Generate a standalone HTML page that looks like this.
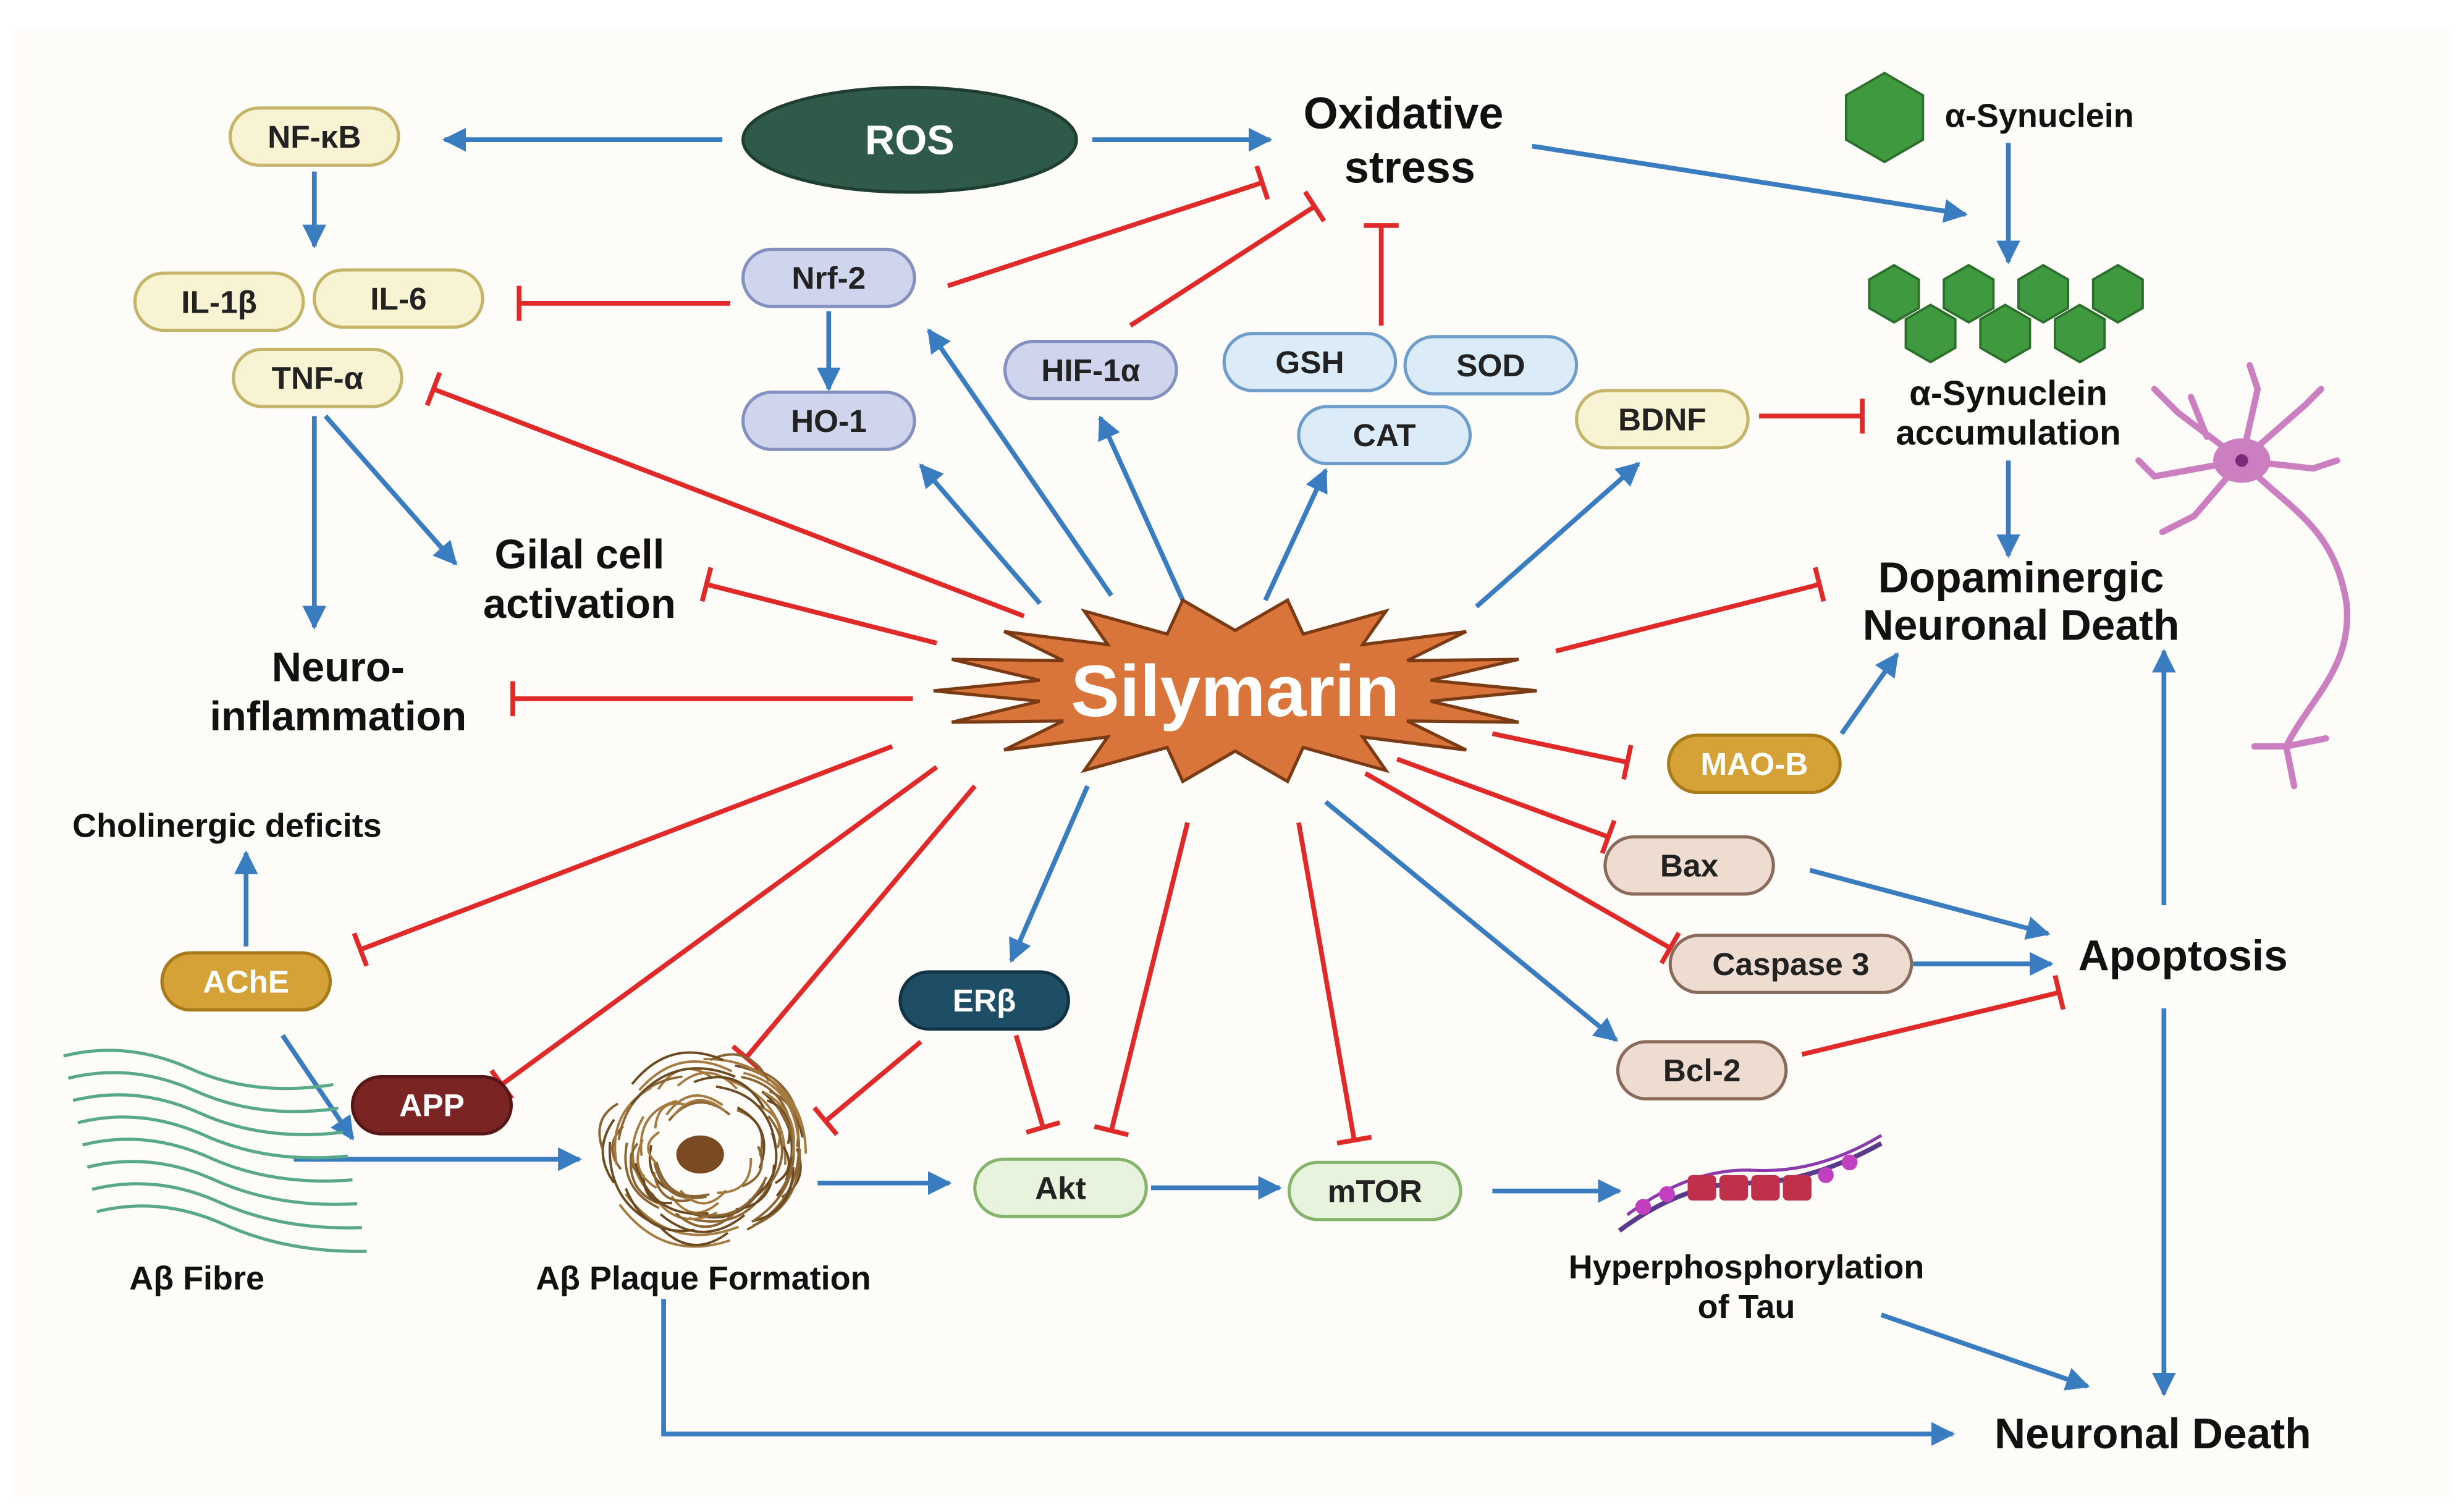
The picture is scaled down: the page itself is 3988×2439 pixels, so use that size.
<!DOCTYPE html>
<html><head><meta charset="utf-8"><style>
html,body{margin:0;padding:0;background:#fff;}
svg{display:block;}
text{font-family:"Liberation Sans",sans-serif;font-weight:bold;}
</style></head><body>
<svg id="s" width="3988" height="2439" viewBox="0 0 1552 949" preserveAspectRatio="none" xmlns="http://www.w3.org/2000/svg">
<defs>
<marker id="ab" viewBox="0 0 10 10" refX="9" refY="5" markerWidth="5" markerHeight="5" orient="auto"><path d="M0,0L10,5L0,10z" fill="#3a7cc0"/></marker>
</defs>
<rect x="0" y="0" width="1552" height="949" fill="#fff"/>
<rect x="8" y="18" width="1536" height="925" fill="#fdfcf8"/>
<g id="lines"></g>
<g id="nodes"></g>
</svg>
<script>
const NS="http://www.w3.org/2000/svg";
const L=document.getElementById('lines'),N=document.getElementById('nodes');
function el(p,t,a,txt){const e=document.createElementNS(NS,t);for(const k in a)e.setAttribute(k,a[k]);if(txt!==undefined)e.textContent=txt;p.appendChild(e);return e;}
function blue(x1,y1,x2,y2){el(L,'line',{x1,y1,x2,y2,stroke:'#3a7cc0','stroke-width':3,'marker-end':'url(#ab)'});}
function red(x1,y1,x2,y2){el(L,'line',{x1,y1,x2,y2,stroke:'#e02a2a','stroke-width':3});
 const dx=x2-x1,dy=y2-y1,l=Math.hypot(dx,dy),px=-dy/l*11,py=dx/l*11;
 el(L,'line',{x1:x2+px,y1:y2+py,x2:x2-px,y2:y2-py,stroke:'#e02a2a','stroke-width':3});}
// blue arrows
blue(455,88,280,88);blue(688,88,800,88);blue(198,108,198,155);blue(522,196,522,245);
blue(965,92,1238,135);blue(1265,90,1265,165);blue(1265,290,1265,350);
blue(198,262,198,395);blue(205,262,287,355);
blue(655,380,580,293);blue(700,375,585,208);blue(745,378,693,263);blue(797,378,835,296);blue(930,382,1032,292);
blue(1160,462,1195,412);blue(685,495,637,605);blue(155,596,155,537);blue(178,652,222,717);
blue(185,730,365,730);blue(515,745,598,745);blue(725,748,806,748);blue(940,750,1020,750);
blue(835,505,1018,655);blue(1140,548,1290,588);blue(1205,607,1292,607);
blue(1363,570,1363,410);blue(1363,635,1363,878);blue(1185,828,1315,873);
el(L,'polyline',{points:'418,818 418,903 1230,903',fill:'none',stroke:'#3a7cc0','stroke-width':3,'marker-end':'url(#ab)'});
// red inhibitors
red(597,180,795,115);red(712,205,828,130);red(870,205,870,142);red(460,191,327,191);
red(645,388,273,245);red(590,405,445,368);red(575,440,323,440);red(1108,262,1173,262);
red(980,410,1146,368);red(940,462,1025,480);red(880,478,1013,527);red(860,487,1052,597);
red(1135,664,1297,625);red(562,470,227,598);red(590,483,316,683);red(614,495,470,666);
red(580,656,520,706);red(640,652,657,710);red(748,518,700,712);red(818,518,853,718);
// pills
function pill(cx,cy,w,t,fill,stroke,tc,fs){el(N,'rect',{x:cx-w/2,y:cy-18,width:w,height:36,rx:18,fill,stroke,'stroke-width':2});
 el(N,'text',{x:cx,y:cy+7,'text-anchor':'middle','font-size':fs||20,fill:tc||'#222'},t);}
const Y='#f8f3d2',YS='#c4b56a';
pill(198,86,106,'NF-κB',Y,YS);pill(138,190,106,'IL-1β',Y,YS);pill(251,188,106,'IL-6',Y,YS);pill(200,238,106,'TNF-α',Y,YS);
pill(1047,264,108,'BDNF',Y,YS);
const P='#cfd5ec',PS='#8390c0';
pill(522,175,108,'Nrf-2',P,PS);pill(522,265,108,'HO-1',P,PS);pill(687,233,108,'HIF-1α',P,PS);
const B='#dcebf8',BS='#6d9dcb';
pill(825,228,108,'GSH',B,BS);pill(939,230,108,'SOD',B,BS);pill(872,274,108,'CAT',B,BS);
pill(155,618,106,'AChE','#d4a236','#a77b1a','#fff');pill(1105,481,108,'MAO-B','#d4a236','#a77b1a','#fff');
pill(272,696,100,'APP','#7a2424','#561616','#fff');pill(620,630,106,'ERβ','#1e4d66','#123344','#fff');
const G='#e8f3de',GS='#86b46c';
pill(668,748,108,'Akt',G,GS);pill(866,750,108,'mTOR',G,GS);
const R='#eedcd1',RS='#8a6a5a';
pill(1064,545,106,'Bax',R,RS);pill(1128,607,152,'Caspase 3',R,RS);pill(1072,674,106,'Bcl-2',R,RS);
// ROS
el(N,'ellipse',{cx:573,cy:88,rx:105,ry:33,fill:'#2f5a4a',stroke:'#1f3d32','stroke-width':2});
el(N,'text',{x:573,y:97,'text-anchor':'middle','font-size':26,fill:'#fff'},'ROS');
// texts
function T(x,y,t,fs,anchor){el(N,'text',{x,y,'text-anchor':anchor||'middle','font-size':fs,fill:'#111'},t);}
T(884,81,'Oxidative',28);T(888,115,'stress',28);
T(1225,80,'α-Synuclein',21,'start');T(1265,255,'α-Synuclein',22);T(1265,280,'accumulation',22);
T(1273,373,'Dopaminergic',27);T(1273,403,'Neuronal Death',27);
T(365,358,'Gilal cell',26);T(365,389,'activation',26);
T(213,429,'Neuro-',26);T(213,460,'inflammation',26);
T(143,527,'Cholinergic deficits',21);T(1375,611,'Apoptosis',27);T(1356,912,'Neuronal Death',27);
T(1100,805,'Hyperphosphorylation',21);T(1100,830,'of Tau',21);
T(124,812,'Aβ Fibre',21);T(443,812,'Aβ Plaque Formation',21);
// hexagons
function hex(cx,cy,r){let p=[];for(let i=0;i<6;i++){const a=Math.PI/3*i+Math.PI/6;p.push((cx+r*Math.cos(a)).toFixed(1)+','+(cy+r*Math.sin(a)).toFixed(1));}
 el(N,'polygon',{points:p.join(' '),fill:'#3f9a3f',stroke:'#2c6e2c','stroke-width':1.5});}
hex(1187,74,28);
[[1193,185],[1240,185],[1287,185],[1334,185],[1216,210],[1263,210],[1310,210]].forEach(h=>hex(h[0],h[1],18));
// starburst
(function(){const cx=778,cy=435,n=18;let p=[];for(let i=0;i<n*2;i++){const a=Math.PI*2*i/(n*2);const o=i%2==0;
 const rx=o?190:125,ry=o?58:38;p.push((cx+rx*Math.cos(a)).toFixed(1)+','+(cy+ry*Math.sin(a)*(o?1:1)).toFixed(1));}
 const spikesY=[];el(N,'polygon',{points:p.join(' '),fill:'#d9743a',stroke:'#7a3a14','stroke-width':2});
 el(N,'text',{x:cx,y:cy+16,'text-anchor':'middle','font-size':46,fill:'#fff'},'Silymarin');})();
// plaque
(function(){const g=el(N,'g',{});for(let i=0;i<70;i++){const r=30+Math.random()*35,a=Math.random()*6.28,b=a+0.5+Math.random();
 el(g,'path',{d:`M${443+r*Math.cos(a)},${725+r*0.9*Math.sin(a)} Q${443+(r+10)*Math.cos((a+b)/2)},${725+(r+10)*Math.sin((a+b)/2)} ${443+r*Math.cos(b)},${725+r*0.9*Math.sin(b)}`,fill:'none',stroke:['#8a6432','#a57a40','#6b4a22'][i%3],'stroke-width':1.5});}
 el(g,'ellipse',{cx:441,cy:727,rx:15,ry:12,fill:'#7a4a22'});})();
// fibres
(function(){for(let k=0;k<8;k++){const y=665+k*14;el(N,'path',{d:`M${40+k*3},${y} q40,-10 80,8 t90,${10+k}`,fill:'none',stroke:'#5aa88a','stroke-width':2});}})();
// tau
el(N,'path',{d:'M1020,775 q40,-30 80,-30 t85,-25',fill:'none',stroke:'#5a3a8a','stroke-width':3});
el(N,'path',{d:'M1025,765 q40,-30 80,-28 t80,-22',fill:'none',stroke:'#8a3aaa','stroke-width':2});
for(let i=0;i<4;i++)el(N,'rect',{x:1063+i*20,y:740,width:18,height:16,rx:3,fill:'#c0304a'});
[[1035,760],[1050,752],[1150,740],[1165,732]].forEach(c=>el(N,'circle',{cx:c[0],cy:c[1],r:5,fill:'#c040c0'}));
// neuron
(function(){const s='#cc7fc0';const d=['M1412,290 C1440,320 1470,330 1478,380 C1482,420 1455,440 1440,470','M1440,470 l-20,0 M1440,470 l25,-5 M1440,470 l5,25',
 'M1412,290 l-40,-30 l-15,-15 M1390,275 l-10,-25','M1412,290 l10,-45 l-5,-15','M1412,290 l40,-35 l10,-10','M1412,290 l-55,10 l-10,-10','M1412,290 l-30,35 l-20,10','M1412,290 l45,5 l15,-5'];
 d.forEach(x=>el(N,'path',{d:x,fill:'none',stroke:s,'stroke-width':4,'stroke-linecap':'round'}));
 el(N,'ellipse',{cx:1412,cy:290,rx:18,ry:14,fill:s});el(N,'circle',{cx:1412,cy:290,r:4,fill:'#7a2a7a'});})();
</script>
</body></html>
